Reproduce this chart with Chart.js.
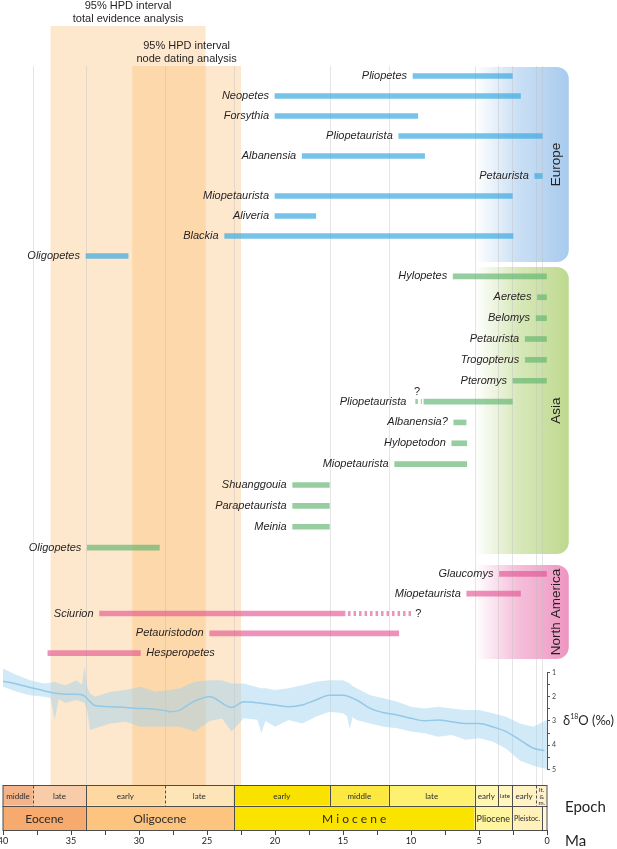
<!DOCTYPE html>
<html>
<head>
<meta charset="utf-8">
<script src="https://cdn.jsdelivr.net/npm/chart.js@4.4.0/dist/chart.umd.min.js"></script>
<style>
  html, body { margin: 0; padding: 0; background: #fff; }
</style>
</head>
<body>
<canvas id="fossilChart" width="617" height="849"></canvas>
<script>
// Fossil ranges, in Ma (start = oldest, end = youngest)
const europeTaxa = ['Pliopetes', 'Neopetes', 'Forsythia', 'Pliopetaurista', 'Albanensia', 'Petaurista', 'Miopetaurista', 'Aliveria', 'Blackia', 'Oligopetes'];
const europeFrom = [9.85, 20, 20, 10.9, 18, 0.9, 20, 20, 23.7, 33.9];
const europeTo   = [2.55, 1.95, 9.5, 0.35, 9.0, 0.35, 2.55, 17.0, 2.5, 30.8];

const asiaTaxa = ['Hylopetes', 'Aeretes', 'Belomys', 'Petaurista', 'Trogopterus', 'Pteromys', 'Pliopetaurista', 'Albanensia?', 'Hylopetodon', 'Miopetaurista', 'Shuanggouia', 'Parapetaurista', 'Meinia', 'Oligopetes'];
const asiaFrom = [6.9, 0.7, 0.8, 1.6, 1.6, 2.5, 9.05, 6.85, 7.0, 11.2, 18.7, 18.7, 18.7, 33.8];
const asiaTo   = [0, 0, 0, 0, 0, 0, 2.55, 5.95, 5.9, 5.9, 16.0, 16.0, 16.0, 28.5];

const naTaxa = ['Glaucomys', 'Miopetaurista', 'Sciurion', 'Petauristodon', 'Hesperopetes'];
const naFrom = [3.5, 5.9, 32.9, 24.8, 36.7];
const naTo   = [0, 1.95, 14.85, 10.9, 29.9];

// uncertain extensions (drawn dashed, with a "?")
const dashRegion = [1, 2];
const dashTaxon  = ['Pliopetaurista', 'Sciurion'];
const dashFrom   = [9.9, 14.85];
const dashTo     = [9.2, 9.9];
const dashQuery  = ['above', 'after'];

// taxa whose name sits after the bar
const labelAfter = ['Hesperopetes'];

// regions
const regionNames = ['Europe', 'Asia', 'North America'];
const regionAxes  = ['yEU', 'yAS', 'yNA'];
const regionRGB   = [[168, 203, 238], [190, 217, 142], [238, 150, 194]];
const regionFromMa = 5.3;
const regionToMa = -1.6;

// 95% HPD intervals
const hpdFrom = [36.5, 30.5];
const hpdTo   = [25.1, 22.5];
const hpdTopAxis = ['yHead', 'yEU'];
const hpdLabels = [['95% HPD interval', 'total evidence analysis'], ['95% HPD interval', 'node dating analysis']];

// epoch / stage boundaries used as grid lines
const gridMa = [37.8, 33.9, 28.1, 23.03, 15.97, 11.63, 5.33, 3.6, 2.58, 0.78, 0.35];

// delta 18O record
const d18Ma    = [40, 39, 38, 37, 36.5, 36.2, 35.9, 35.4, 34.6, 34.2, 34.0, 33.8, 33.6, 33.2, 32.1, 31, 29.9, 28.8, 27.7, 27, 25.9, 24.8, 23.9, 23.2, 22.3, 21.3, 21, 20.7, 20, 19, 18, 17, 16, 15, 14.7, 14.5, 14.3, 14, 13, 12, 11, 10, 9, 8, 7, 6, 5, 4, 3, 2, 1, 0];
const d18Upper = [0.83, 1.1, 1.31, 1.45, 1.42, 1.38, 1.45, 1.52, 1.31, 1.5, 0.76, 1.6, 1.86, 2.0, 1.79, 1.72, 1.58, 1.79, 1.72, 1.65, 1.38, 1.31, 1.31, 1.45, 1.45, 1.6, 1.65, 1.65, 1.72, 1.65, 1.52, 1.38, 1.31, 1.31, 1.4, 1.45, 1.55, 1.65, 1.93, 2.06, 2.2, 2.41, 2.48, 2.41, 2.48, 2.55, 2.55, 2.68, 2.82, 3.1, 3.24, 2.96];
const d18Lower = [1.58, 1.79, 1.93, 2.0, 2.05, 2.96, 2.1, 2.26, 2.13, 2.2, 2.26, 2.6, 3.37, 3.3, 3.1, 3.03, 3.24, 3.24, 3.24, 3.24, 3.44, 3.0, 2.9, 3.44, 2.89, 2.95, 3.5, 3.0, 3.24, 2.96, 3.1, 2.82, 2.62, 2.68, 2.8, 3.34, 2.85, 2.96, 3.1, 3.24, 3.3, 3.44, 3.51, 3.65, 3.58, 3.78, 3.72, 3.85, 4.15, 4.64, 4.85, 5.0];
const d18SmoothMa = [40, 39, 38, 37, 36, 35, 34.3, 34, 33.6, 33.2, 32, 31, 30, 29, 28, 27.7, 27, 26, 24.8, 23.2, 22.3, 21, 20, 19, 18, 17, 16, 15, 14, 13, 12, 11, 10, 9, 8, 7, 6, 5, 4, 3, 2, 1, 0.2];
const d18Smooth   = [1.35, 1.47, 1.61, 1.75, 1.86, 1.89, 1.9, 1.97, 2.2, 2.37, 2.41, 2.44, 2.48, 2.5, 2.58, 2.62, 2.55, 2.2, 2.0, 2.44, 2.2, 2.27, 2.34, 2.41, 2.34, 2.13, 1.93, 1.93, 2.13, 2.48, 2.66, 2.75, 2.89, 2.99, 2.96, 3.03, 3.1, 3.1, 3.24, 3.44, 3.78, 4.13, 4.22];
const d18Ticks = [1, 1.5, 2, 2.5, 3, 3.5, 4, 4.5, 5];

// time scale
const ageNames  = ['middle', 'late', 'early', 'late', 'early', 'middle', 'late', 'early', 'late', 'early', 'lt. & m.'];
const ageFrom   = [40, 37.8, 33.9, 28.1, 23.03, 15.97, 11.63, 5.33, 3.6, 2.58, 0.78];
const ageTo     = [37.8, 33.9, 28.1, 23.03, 15.97, 11.63, 5.33, 3.6, 2.58, 0.78, 0];
const ageColors = ['#f4b489', '#f9cca9', '#fdd8a1', '#fee5b8', '#fae200', '#fce83e', '#fef070', '#fff6b0', '#fff7be', '#fff3c4', '#fff1cc'];
const ageDashed = [37.8, 28.1, 0.78];

const epochNames  = ['Eocene', 'Oligocene', 'M i o c e n e', 'Pliocene', 'Pleistoc.', ''];
const epochFrom   = [40, 33.9, 23.03, 5.33, 2.58, 0.35];
const epochTo     = [33.9, 23.03, 5.33, 2.58, 0.35, 0];
const epochColors = ['#f6aa6d', '#fdc47f', '#fbe300', '#fff59e', '#fff1b8', '#fff7de'];

const maTicks = [0, 2.5, 5, 7.5, 10, 12.5, 15, 17.5, 20, 22.5, 25, 27.5, 30, 32.5, 35, 37.5, 40];

const regionTaxa = [europeTaxa, asiaTaxa, naTaxa];
const regionFrom = [europeFrom, asiaFrom, naFrom];
const regionTo = [europeTo, asiaTo, naTo];
const barColors = ['rgba(60,170,225,0.7)', 'rgba(95,180,110,0.65)', 'rgba(225,75,140,0.6)'];

const SANS = '"Liberation Sans", Arial, sans-serif';
const LATO = 'Lato, "Open Sans", sans-serif';

// datasets
const datasets = [];

regionAxes.forEach((axisId, r) => {
  datasets.push({
    type: 'bar',
    yAxisID: axisId,
    xAxisID: 'x',
    data: regionFrom[r].map((s, i) => [s, regionTo[r][i]]),
    backgroundColor: barColors[r],
    borderWidth: 0,
    barThickness: 5,
    grouped: false
  });
});

dashTaxon.forEach((t, i) => {
  datasets.push({
    type: 'line',
    indexAxis: 'x',
    xAxisID: 'x',
    yAxisID: regionAxes[dashRegion[i]],
    data: [{ x: dashFrom[i], y: t }, { x: dashTo[i], y: t }],
    borderColor: barColors[dashRegion[i]],
    borderWidth: 5,
    borderDash: [2.5, 3],
    borderDashOffset: 2.5,
    pointRadius: 0,
    fill: false
  });
});

datasets.push({
  type: 'line',
  indexAxis: 'x',
  xAxisID: 'x',
  yAxisID: 'yD',
  data: d18Ma.map((m, i) => ({ x: m, y: d18Upper[i] })),
  borderWidth: 0,
  pointRadius: 0,
  backgroundColor: 'rgba(160,210,238,0.48)',
  fill: '+1'
});
datasets.push({
  type: 'line',
  indexAxis: 'x',
  xAxisID: 'x',
  yAxisID: 'yD',
  data: d18Ma.map((m, i) => ({ x: m, y: d18Lower[i] })),
  borderWidth: 0,
  pointRadius: 0,
  fill: false
});
datasets.push({
  type: 'line',
  indexAxis: 'x',
  xAxisID: 'x',
  yAxisID: 'yD',
  data: d18SmoothMa.map((m, i) => ({ x: m, y: d18Smooth[i] })),
  borderColor: 'rgba(135,192,222,1)',
  borderWidth: 1.5,
  pointRadius: 0,
  cubicInterpolationMode: 'monotone',
  fill: false
});

datasets.push({
  type: 'bar',
  yAxisID: 'yAge',
  xAxisID: 'x',
  data: ageFrom.map((f, i) => ({ y: 'stage', x: [f, ageTo[i]] })),
  backgroundColor: ageColors,
  borderWidth: 0,
  barPercentage: 1,
  categoryPercentage: 1,
  grouped: false
});
datasets.push({
  type: 'bar',
  yAxisID: 'yEpoch',
  xAxisID: 'x',
  data: epochFrom.map((f, i) => ({ y: 'epoch', x: [f, epochTo[i]] })),
  backgroundColor: epochColors,
  borderWidth: 0,
  barPercentage: 1,
  categoryPercentage: 1,
  grouped: false
});

// text fitted into a time scale cell
function cellText(ctx, text, cx, cy, cellW, maxSize) {
  if (!text) return;
  const avail = cellW - 4;
  ctx.font = maxSize + 'px ' + LATO;
  const w = ctx.measureText(text).width;
  if (w <= avail) {
    ctx.fillText(text, cx, cy);
    return;
  }
  const words = text.split(' ');
  if (words.length > 1 && text.indexOf('.') !== -1) {
    const widest = Math.max(...words.map(t => ctx.measureText(t).width));
    const size = Math.min(maxSize, maxSize * avail / widest);
    ctx.font = size + 'px ' + LATO;
    words.forEach((t, k) => ctx.fillText(t, cx, cy + (k - (words.length - 1) / 2) * size * 1.05));
    return;
  }
  const size = maxSize * avail / w;
  ctx.font = size + 'px ' + LATO;
  ctx.fillText(text, cx, cy);
}

const decorations = {
  id: 'decorations',
  beforeDatasetsDraw(chart) {
    const { ctx, scales } = chart;
    const x = scales.x;
    const floor = scales.yAge.top;
    ctx.save();

    // HPD intervals
    hpdFrom.forEach((from, i) => {
      const top = scales[hpdTopAxis[i]].top;
      const l = x.getPixelForValue(from), r = x.getPixelForValue(hpdTo[i]);
      ctx.fillStyle = 'rgba(248,180,90,0.3)';
      ctx.fillRect(l, top, r - l, floor - top);
    });

    // region boxes
    regionNames.forEach((name, i) => {
      const ax = scales[regionAxes[i]];
      const l = x.getPixelForValue(regionFromMa), r = x.getPixelForValue(regionToMa);
      const top = ax.top + 1, bot = ax.bottom - 4;
      const [cr, cg, cb] = regionRGB[i];
      const g = ctx.createLinearGradient(l, 0, r, 0);
      g.addColorStop(0, `rgba(${cr},${cg},${cb},0)`);
      g.addColorStop(0.45, `rgba(${cr},${cg},${cb},0.6)`);
      g.addColorStop(1, `rgba(${cr},${cg},${cb},1)`);
      ctx.fillStyle = g;
      ctx.beginPath();
      ctx.roundRect(l, top, r - l, bot - top, [0, 12, 12, 0]);
      ctx.fill();
    });

    // boundary lines
    ctx.strokeStyle = 'rgba(190,190,190,0.4)';
    ctx.lineWidth = 1;
    gridMa.forEach(ma => {
      const px = Math.round(x.getPixelForValue(ma)) + 0.5;
      ctx.beginPath();
      ctx.moveTo(px, scales.yEU.top);
      ctx.lineTo(px, floor);
      ctx.stroke();
    });
    ctx.restore();
  },

  afterDatasetsDraw(chart) {
    const { ctx, scales } = chart;
    const x = scales.x;
    ctx.save();

    // taxon names
    ctx.fillStyle = '#231f20';
    ctx.textBaseline = 'middle';
    ctx.font = 'italic 11px ' + SANS;
    regionAxes.forEach((axisId, r) => {
      const ax = scales[axisId];
      regionTaxa[r].forEach((name, i) => {
        const y = ax.getPixelForValue(i);
        if (labelAfter.includes(name)) {
          ctx.textAlign = 'left';
          ctx.fillText(name, x.getPixelForValue(regionTo[r][i]) + 6, y);
          return;
        }
        let start = regionFrom[r][i];
        dashTaxon.forEach((t, k) => {
          if (t === name && dashRegion[k] === r && dashFrom[k] > start) start = dashFrom[k];
        });
        ctx.textAlign = 'right';
        ctx.fillText(name, x.getPixelForValue(start) - 6, y);
      });
    });

    // question marks on uncertain extensions
    ctx.font = '11px ' + SANS;
    dashTaxon.forEach((t, k) => {
      const ax = scales[regionAxes[dashRegion[k]]];
      const y = ax.getPixelForValue(regionTaxa[dashRegion[k]].indexOf(t));
      if (dashQuery[k] === 'above') {
        ctx.textAlign = 'center';
        ctx.fillText('?', (x.getPixelForValue(dashFrom[k]) + x.getPixelForValue(dashTo[k])) / 2, y - 10);
      } else {
        ctx.textAlign = 'left';
        ctx.fillText('?', x.getPixelForValue(dashTo[k]) + 3, y);
      }
    });

    // region names
    ctx.font = '13.5px ' + SANS;
    ctx.textAlign = 'center';
    regionNames.forEach((name, i) => {
      const ax = scales[regionAxes[i]];
      const r = x.getPixelForValue(regionToMa);
      ctx.save();
      ctx.translate(r - 12, (ax.top + 1 + ax.bottom - 4) / 2);
      ctx.rotate(-Math.PI / 2);
      ctx.fillText(name, 0, 0);
      ctx.restore();
    });

    // HPD labels
    ctx.font = '11px ' + SANS;
    hpdLabels.forEach((lines, i) => {
      const top = scales[hpdTopAxis[i]].top;
      const cx = (x.getPixelForValue(hpdFrom[i]) + x.getPixelForValue(hpdTo[i])) / 2;
      lines.forEach((t, k) => ctx.fillText(t, cx, top - 7 - (lines.length - 1 - k) * 13.5));
    });

    // time scale rows
    const drawRow = (axisId, names, from, to, maxSize, dashed) => {
      const ax = scales[axisId];
      const top = Math.round(ax.top) + 0.5, bot = Math.round(ax.bottom) + 0.5;
      const l = x.getPixelForValue(from[0]), r = x.getPixelForValue(to[to.length - 1]);
      ctx.strokeStyle = '#4d4d4d';
      ctx.lineWidth = 1;
      ctx.strokeRect(l, top, r - l, bot - top);
      from.forEach((f, i) => {
        if (i === 0) return;
        const px = Math.round(x.getPixelForValue(f)) + 0.5;
        ctx.setLineDash(dashed.includes(f) ? [3, 2] : []);
        ctx.beginPath();
        ctx.moveTo(px, top);
        ctx.lineTo(px, bot);
        ctx.stroke();
      });
      ctx.setLineDash([]);
      ctx.fillStyle = '#2b2b2b';
      ctx.textAlign = 'center';
      names.forEach((t, i) => {
        const a = x.getPixelForValue(from[i]), b = x.getPixelForValue(to[i]);
        cellText(ctx, t, (a + b) / 2, (top + bot) / 2 + 0.5, b - a, maxSize);
      });
    };
    drawRow('yAge', ageNames, ageFrom, ageTo, 8, ageDashed);
    drawRow('yEpoch', epochNames, epochFrom, epochTo, 12, []);

    // delta 18O axis line and title
    const yD = scales.yD;
    ctx.strokeStyle = '#555';
    ctx.beginPath();
    ctx.moveTo(Math.round(yD.left) + 0.5, yD.getPixelForValue(d18Ticks[0]));
    ctx.lineTo(Math.round(yD.left) + 0.5, yD.getPixelForValue(d18Ticks[d18Ticks.length - 1]));
    ctx.stroke();

    ctx.fillStyle = '#231f20';
    ctx.textAlign = 'left';
    let tx = yD.left + 16;
    const ty = yD.getPixelForValue(3);
    ctx.font = '13px ' + LATO;
    ctx.fillText('\u03b4', tx, ty);
    tx += ctx.measureText('\u03b4').width;
    ctx.font = '7px ' + LATO;
    ctx.fillText('18', tx, ty - 4);
    tx += ctx.measureText('18').width;
    ctx.font = '13px ' + LATO;
    ctx.fillText('O (\u2030)', tx, ty);

    ctx.font = '15px ' + LATO;
    ctx.fillText('Epoch', yD.left + 18, (scales.yAge.top + scales.yEpoch.bottom) / 2);
    ctx.fillText('Ma', yD.left + 18, (x.top + x.bottom) / 2 + 2);
    ctx.restore();
  }
};

const hidden = (weight, stackWeight) => ({
  type: 'linear', position: 'right', stack: 'v', stackWeight, weight,
  display: false, offset: false, grid: { offset: false }
});
const taxaAxis = (labels, weight, stackWeight) => ({
  type: 'category', labels, position: 'right', stack: 'v', stackWeight, weight,
  display: false, offset: true
});

new Chart(document.getElementById('fossilChart'), {
  type: 'bar',
  data: { datasets },
  options: {
    responsive: false,
    animation: false,
    events: [],
    indexAxis: 'y',
    layout: { padding: { top: 26, left: 3, right: 0, bottom: 0 } },
    plugins: { legend: { display: false }, tooltip: { enabled: false } },
    scales: {
      x: {
        type: 'linear',
        position: 'bottom',
        min: 0,
        max: 40,
        reverse: true,
        afterBuildTicks: s => { s.ticks = maTicks.map(v => ({ value: v })); },
        afterFit: s => { s.height = 19; s.paddingLeft = 0; s.paddingRight = 0; },
        ticks: {
          autoSkip: false,
          maxRotation: 0,
          padding: 1,
          color: '#222',
          font: { family: LATO, size: 9 },
          callback: v => (v % 5 === 0 ? String(v) : '')
        },
        grid: { drawOnChartArea: false, drawTicks: true, tickLength: 5, color: '#444' },
        border: { color: '#444', width: 1 }
      },
      yHead: hidden(1, 40),
      yEU: taxaAxis(europeTaxa, 2, 200),
      yAS: taxaAxis(asiaTaxa, 3, 292),
      yGap: hidden(4, 6),
      yNA: taxaAxis(naTaxa, 5, 99),
      yD: {
        type: 'linear',
        position: 'right',
        stack: 'v',
        stackWeight: 122,
        weight: 6,
        min: 0.6,
        max: 5.65,
        reverse: true,
        offset: false,
        afterBuildTicks: s => { s.ticks = d18Ticks.map(v => ({ value: v })); },
        afterFit: s => { s.width = 70; s.paddingTop = 0; s.paddingBottom = 0; },
        ticks: {
          autoSkip: false,
          padding: 2,
          color: '#444',
          font: { family: LATO, size: 7 },
          callback: v => (Number.isInteger(v) ? String(v) : '')
        },
        grid: { drawOnChartArea: false, drawTicks: true, tickLength: 3, color: '#555', offset: false },
        border: { display: false }
      },
      yAge: taxaAxis(['stage'], 7, 20.5),
      yEpoch: taxaAxis(['epoch'], 8, 24.5)
    }
  },
  plugins: [decorations]
});
</script>
</body>
</html>
